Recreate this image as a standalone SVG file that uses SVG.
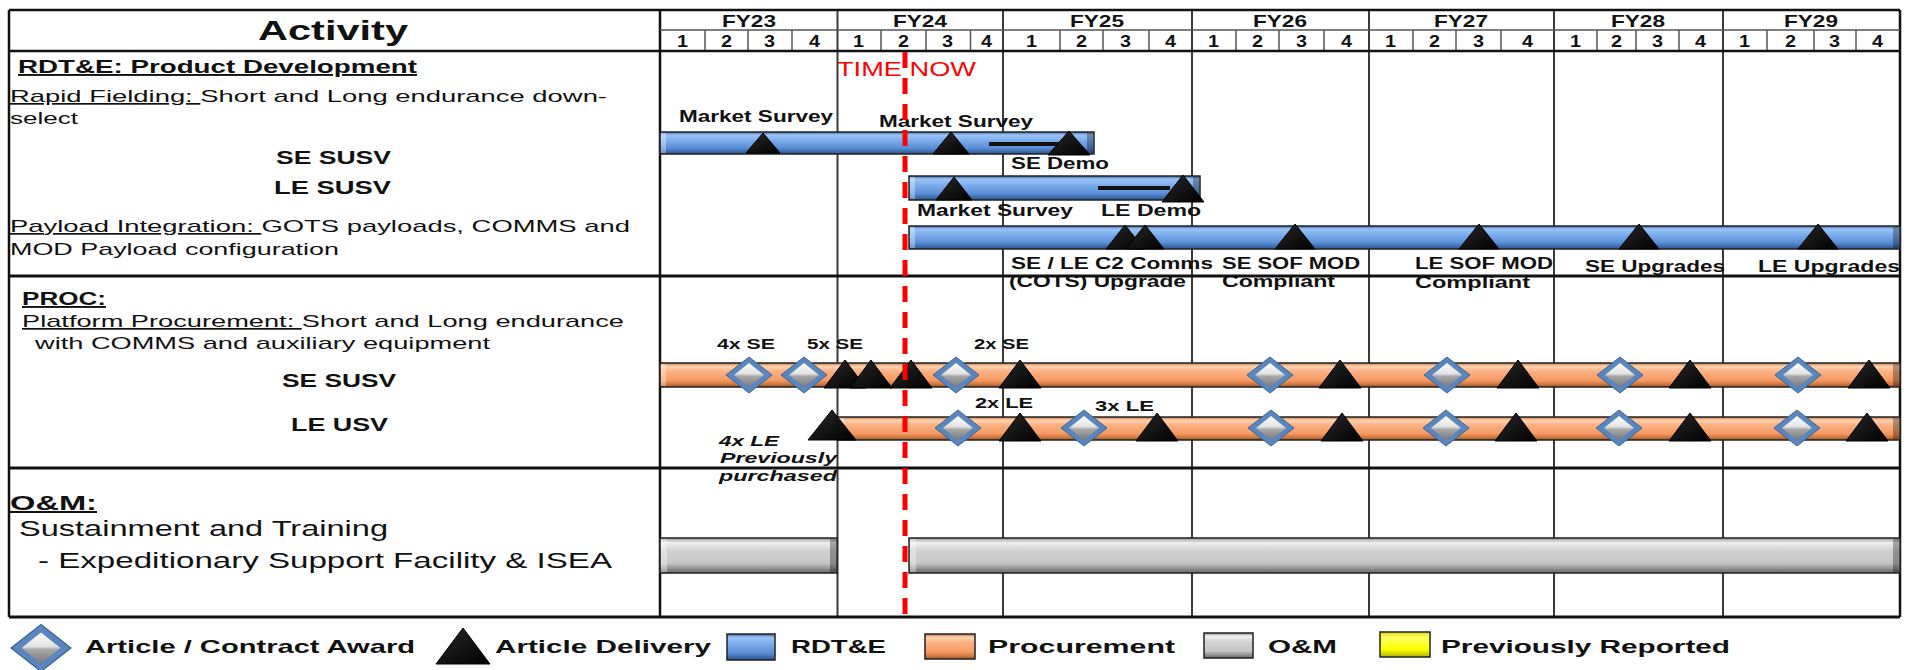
<svg xmlns="http://www.w3.org/2000/svg" width="1913" height="670" viewBox="0 0 1913 670">
<style>
 text { font-family: "Liberation Sans", Arial, sans-serif; fill:#111; }
 .hdr { font-size: 28px; font-weight: bold; }
 .fy { font-size: 17px; font-weight: bold; }
 .q { font-size: 16px; font-weight: bold; }
 .lt { font-size: 17px; }
 .lh { font-size: 19px; font-weight: bold; }
 .lb { font-size: 18px; font-weight: bold; }
 .ms { font-size: 16px; font-weight: bold; }
 .pl { font-size: 15px; font-weight: bold; }
 .it { font-size: 15px; font-weight: bold; font-style: italic; }
 .om { font-size: 22px; }
 .omh { font-size: 20px; font-weight: bold; }
 .lg { font-size: 19px; font-weight: bold; }
 .now { font-size: 20px; fill:#ff0000; }
 .u { text-decoration: underline; }
 .grid { stroke:#3a3a3a; stroke-width:2; }
 .qline { stroke:#555; stroke-width:1.5; }
 .border { stroke:#111; stroke-width:2.5; }
 .div { stroke:#111; stroke-width:3; }
 .tri { fill:url(#gTri); stroke:#000; stroke-width:1; }
 .bar { stroke:#222; stroke-width:1.5; }
 .blue { fill:url(#gBlue); }
 .org { fill:url(#gOrg); }
 .gry { fill:url(#gGry); }
 .hl { fill:#ffffff; fill-opacity:0.35; }
 .sh { fill:#000000; fill-opacity:0.3; }
 .conn { stroke:#111; stroke-width:4; }
 .nowl { stroke:#ff0000; stroke-width:5; stroke-dasharray:16 10; }
</style>
<defs>
 <linearGradient id="gBlue" x1="0" y1="0" x2="0" y2="1">
  <stop offset="0" stop-color="#3d6fb0"/><stop offset="0.14" stop-color="#9cc3f5"/>
  <stop offset="0.35" stop-color="#7fb0ee"/><stop offset="0.72" stop-color="#5b8fd6"/>
  <stop offset="0.88" stop-color="#3e6db0"/><stop offset="1" stop-color="#2a4f86"/>
 </linearGradient>
 <linearGradient id="gOrg" x1="0" y1="0" x2="0" y2="1">
  <stop offset="0" stop-color="#c77a45"/><stop offset="0.14" stop-color="#ffd3b0"/>
  <stop offset="0.35" stop-color="#fbb184"/><stop offset="0.72" stop-color="#f59a62"/>
  <stop offset="0.88" stop-color="#cf7840"/><stop offset="1" stop-color="#9a5428"/>
 </linearGradient>
 <linearGradient id="gGry" x1="0" y1="0" x2="0" y2="1">
  <stop offset="0" stop-color="#9a9a9a"/><stop offset="0.14" stop-color="#f0f0f0"/>
  <stop offset="0.35" stop-color="#d2d2d2"/><stop offset="0.72" stop-color="#c6c6c6"/>
  <stop offset="0.88" stop-color="#8f8f8f"/><stop offset="1" stop-color="#666"/>
 </linearGradient>
 <linearGradient id="gYel" x1="0" y1="0" x2="0" y2="1">
  <stop offset="0" stop-color="#d8d800"/><stop offset="0.2" stop-color="#ffff66"/>
  <stop offset="0.7" stop-color="#ffff00"/><stop offset="1" stop-color="#b0b000"/>
 </linearGradient>
 <linearGradient id="gTri" x1="0" y1="0" x2="1" y2="1">
  <stop offset="0" stop-color="#2a2a2a"/><stop offset="1" stop-color="#000"/>
 </linearGradient>
 <linearGradient id="gDia" x1="0" y1="0" x2="0" y2="1">
  <stop offset="0" stop-color="#ffffff"/><stop offset="0.45" stop-color="#e2e2e2"/>
  <stop offset="0.55" stop-color="#a8a8a8"/><stop offset="1" stop-color="#7a7a7a"/>
 </linearGradient>
 <g id="dia">
  <polygon points="0,-18 23,0 0,18 -23,0" fill="#5a86bd" stroke="#3b6596" stroke-width="1"/>
  <polygon points="0,-12 15,0 0,12 -15,0" fill="url(#gDia)"/>
 </g>
</defs>
<rect x="0" y="0" width="1913" height="670" fill="#fff"/>

<g id="grid">
 <line class="qline" x1="705" y1="30" x2="705" y2="51"/><line class="qline" x1="748" y1="30" x2="748" y2="51"/><line class="qline" x1="792" y1="30" x2="792" y2="51"/>
 <line class="qline" x1="881" y1="30" x2="881" y2="51"/><line class="qline" x1="926" y1="30" x2="926" y2="51"/><line class="qline" x1="970.5" y1="30" x2="970.5" y2="51"/>
 <line class="qline" x1="1060" y1="30" x2="1060" y2="51"/><line class="qline" x1="1103" y1="30" x2="1103" y2="51"/><line class="qline" x1="1149" y1="30" x2="1149" y2="51"/>
 <line class="qline" x1="1236" y1="30" x2="1236" y2="51"/><line class="qline" x1="1279" y1="30" x2="1279" y2="51"/><line class="qline" x1="1324" y1="30" x2="1324" y2="51"/>
 <line class="qline" x1="1413" y1="30" x2="1413" y2="51"/><line class="qline" x1="1456" y1="30" x2="1456" y2="51"/><line class="qline" x1="1501" y1="30" x2="1501" y2="51"/>
 <line class="qline" x1="1597" y1="30" x2="1597" y2="51"/><line class="qline" x1="1636" y1="30" x2="1636" y2="51"/><line class="qline" x1="1679" y1="30" x2="1679" y2="51"/>
 <line class="qline" x1="1767" y1="30" x2="1767" y2="51"/><line class="qline" x1="1814" y1="30" x2="1814" y2="51"/><line class="qline" x1="1856" y1="30" x2="1856" y2="51"/>
 <line class="grid" x1="837.5" y1="10" x2="837.5" y2="617"/>
 <line class="grid" x1="1003" y1="10" x2="1003" y2="617"/>
 <line class="grid" x1="1192" y1="10" x2="1192" y2="617"/>
 <line class="grid" x1="1369" y1="10" x2="1369" y2="617"/>
 <line class="grid" x1="1554" y1="10" x2="1554" y2="617"/>
 <line class="grid" x1="1723" y1="10" x2="1723" y2="617"/>
 <line class="border" x1="660" y1="10" x2="660" y2="617"/>
 <line class="border" x1="9" y1="10" x2="9" y2="617"/>
 <line class="border" x1="1900" y1="10" x2="1900" y2="617"/>
 <line class="border" x1="9" y1="10" x2="1900" y2="10"/>
 <line class="qline" x1="660" y1="30" x2="1900" y2="30"/>
 <line class="border" x1="9" y1="51" x2="1900" y2="51"/>
 <line class="div" x1="9" y1="276" x2="1900" y2="276"/>
 <line class="div" x1="9" y1="468" x2="1900" y2="468"/>
 <line class="div" x1="9" y1="617" x2="1900" y2="617"/>
</g>

<g id="header">
 <text class="hdr" x="258" y="40" textLength="150" lengthAdjust="spacingAndGlyphs">Activity</text>
 <text class="fy" x="722" y="27" textLength="54" lengthAdjust="spacingAndGlyphs">FY23</text>
 <text class="fy" x="893" y="27" textLength="54" lengthAdjust="spacingAndGlyphs">FY24</text>
 <text class="fy" x="1070" y="27" textLength="54" lengthAdjust="spacingAndGlyphs">FY25</text>
 <text class="fy" x="1253" y="27" textLength="54" lengthAdjust="spacingAndGlyphs">FY26</text>
 <text class="fy" x="1434" y="27" textLength="54" lengthAdjust="spacingAndGlyphs">FY27</text>
 <text class="fy" x="1611" y="27" textLength="54" lengthAdjust="spacingAndGlyphs">FY28</text>
 <text class="fy" x="1784" y="27" textLength="54" lengthAdjust="spacingAndGlyphs">FY29</text>
 <g class="q">
  <text x="677" y="47" textLength="11" lengthAdjust="spacingAndGlyphs">1</text><text x="721" y="47" textLength="11" lengthAdjust="spacingAndGlyphs">2</text><text x="764" y="47" textLength="11" lengthAdjust="spacingAndGlyphs">3</text><text x="809" y="47" textLength="11" lengthAdjust="spacingAndGlyphs">4</text>
  <text x="853" y="47" textLength="11" lengthAdjust="spacingAndGlyphs">1</text><text x="898" y="47" textLength="11" lengthAdjust="spacingAndGlyphs">2</text><text x="942" y="47" textLength="11" lengthAdjust="spacingAndGlyphs">3</text><text x="981" y="47" textLength="11" lengthAdjust="spacingAndGlyphs">4</text>
  <text x="1026" y="47" textLength="11" lengthAdjust="spacingAndGlyphs">1</text><text x="1076" y="47" textLength="11" lengthAdjust="spacingAndGlyphs">2</text><text x="1120" y="47" textLength="11" lengthAdjust="spacingAndGlyphs">3</text><text x="1165" y="47" textLength="11" lengthAdjust="spacingAndGlyphs">4</text>
  <text x="1208" y="47" textLength="11" lengthAdjust="spacingAndGlyphs">1</text><text x="1252" y="47" textLength="11" lengthAdjust="spacingAndGlyphs">2</text><text x="1296" y="47" textLength="11" lengthAdjust="spacingAndGlyphs">3</text><text x="1341" y="47" textLength="11" lengthAdjust="spacingAndGlyphs">4</text>
  <text x="1385" y="47" textLength="11" lengthAdjust="spacingAndGlyphs">1</text><text x="1429" y="47" textLength="11" lengthAdjust="spacingAndGlyphs">2</text><text x="1473" y="47" textLength="11" lengthAdjust="spacingAndGlyphs">3</text><text x="1522" y="47" textLength="11" lengthAdjust="spacingAndGlyphs">4</text>
  <text x="1570" y="47" textLength="11" lengthAdjust="spacingAndGlyphs">1</text><text x="1611" y="47" textLength="11" lengthAdjust="spacingAndGlyphs">2</text><text x="1652" y="47" textLength="11" lengthAdjust="spacingAndGlyphs">3</text><text x="1695" y="47" textLength="11" lengthAdjust="spacingAndGlyphs">4</text>
  <text x="1739" y="47" textLength="11" lengthAdjust="spacingAndGlyphs">1</text><text x="1785" y="47" textLength="11" lengthAdjust="spacingAndGlyphs">2</text><text x="1829" y="47" textLength="11" lengthAdjust="spacingAndGlyphs">3</text><text x="1872" y="47" textLength="11" lengthAdjust="spacingAndGlyphs">4</text>
 </g>
</g>

<g id="activity-labels">
 <text class="lh u" x="18" y="73" textLength="399" lengthAdjust="spacingAndGlyphs">RDT&amp;E:  Product Development</text>
 <text class="lt" x="10" y="102" textLength="597" lengthAdjust="spacingAndGlyphs"><tspan class="u">Rapid Fielding: </tspan>Short and Long endurance down-</text>
 <text class="lt" x="10" y="124" textLength="68" lengthAdjust="spacingAndGlyphs">select</text>
 <text class="lb" x="276" y="164" textLength="115" lengthAdjust="spacingAndGlyphs">SE SUSV</text>
 <text class="lb" x="274" y="194" textLength="117" lengthAdjust="spacingAndGlyphs">LE SUSV</text>
 <text class="lt" x="10" y="232" textLength="620" lengthAdjust="spacingAndGlyphs"><tspan class="u">Payload Integration:  </tspan>GOTS payloads, COMMS and</text>
 <text class="lt" x="10" y="255" textLength="329" lengthAdjust="spacingAndGlyphs">MOD Payload configuration</text>
 <text class="lh u" x="22" y="305" textLength="84" lengthAdjust="spacingAndGlyphs">PROC:</text>
 <text class="lt" x="22" y="327" textLength="602" lengthAdjust="spacingAndGlyphs"><tspan class="u">Platform Procurement: </tspan>Short and Long endurance</text>
 <text class="lt" x="35" y="349" textLength="455" lengthAdjust="spacingAndGlyphs">with COMMS and auxiliary equipment</text>
 <text class="lb" x="282" y="387" textLength="114" lengthAdjust="spacingAndGlyphs">SE SUSV</text>
 <text class="lb" x="291" y="431" textLength="97" lengthAdjust="spacingAndGlyphs">LE USV</text>
 <text class="omh u" x="10" y="510" textLength="87" lengthAdjust="spacingAndGlyphs">O&amp;M:</text>
 <text class="om" x="19" y="536" textLength="369" lengthAdjust="spacingAndGlyphs">Sustainment  and Training</text>
 <text class="om" x="38" y="568" textLength="574" lengthAdjust="spacingAndGlyphs">- Expeditionary  Support  Facility &amp; ISEA</text>
</g>

<g id="bar-rdte-se"><rect class="bar blue" x="660" y="132" width="434" height="22"/><rect class="hl" x="661" y="133" width="5" height="20"/><rect class="sh" x="1087" y="133" width="6" height="20"/></g>
<g id="bar-rdte-le"><rect class="bar blue" x="909" y="176" width="291" height="24"/><rect class="hl" x="910" y="177" width="5" height="22"/><rect class="sh" x="1193" y="177" width="6" height="22"/></g>
<g id="bar-payload"><rect class="bar blue" x="909" y="226" width="991" height="23"/><rect class="hl" x="910" y="227" width="5" height="21"/><rect class="sh" x="1893" y="227" width="6" height="21"/></g>
<g id="bar-proc-se"><rect class="bar org" x="660" y="363" width="1240" height="24"/><rect class="hl" x="661" y="364" width="5" height="22"/><rect class="sh" x="1893" y="364" width="6" height="22"/></g>
<g id="bar-proc-le"><rect class="bar org" x="838" y="417" width="1062" height="23"/><rect class="hl" x="839" y="418" width="5" height="21"/><rect class="sh" x="1893" y="418" width="6" height="21"/></g>
<g id="bar-om-1"><rect class="bar gry" x="660" y="538" width="177" height="35"/><rect class="hl" x="661" y="539" width="6" height="33"/><rect class="sh" x="830" y="539" width="6" height="33"/></g>
<g id="bar-om-2"><rect class="bar gry" x="909" y="538" width="991" height="35"/><rect class="hl" x="910" y="539" width="6" height="33"/><rect class="sh" x="1893" y="539" width="6" height="33"/></g>

<g id="connectors">
 <line class="conn" x1="989" y1="144" x2="1067" y2="144"/>
 <line class="conn" x1="1098" y1="188" x2="1170" y2="188"/>
</g>

<g id="milestones-rdte">
 <polygon class="tri" points="746,153 763,133 780,153"/>
 <polygon class="tri" points="933,154 951,132 969,154"/>
 <polygon class="tri" points="1048,155 1069,131 1090,155"/>
 <polygon class="tri" points="936,200 954,177 972,200"/>
 <polygon class="tri" points="1162,202 1183,175 1204,202"/>
 <polygon class="tri" points="1106,249 1125,225 1144,249"/>
 <polygon class="tri" points="1126,249 1145,225 1164,249"/>
 <polygon class="tri" points="1275,249 1295,224 1315,249"/>
 <polygon class="tri" points="1459,249 1479,224 1499,249"/>
 <polygon class="tri" points="1619,249 1639,224 1659,249"/>
 <polygon class="tri" points="1798,249 1818,224 1838,249"/>
</g>

<g id="milestones-proc">
 <use href="#dia" x="749" y="375"/><use href="#dia" x="804" y="375"/><use href="#dia" x="956" y="375"/>
 <use href="#dia" x="1270" y="375"/><use href="#dia" x="1447" y="375"/><use href="#dia" x="1620" y="375"/><use href="#dia" x="1798" y="375"/>
 <polygon class="tri" points="824,388 845,360 866,388"/>
 <polygon class="tri" points="850,388 871,360 892,388"/>
 <polygon class="tri" points="890,388 911,360 932,388"/>
 <polygon class="tri" points="999,388 1020,360 1041,388"/>
 <polygon class="tri" points="1319,388 1340,360 1361,388"/>
 <polygon class="tri" points="1497,388 1518,360 1539,388"/>
 <polygon class="tri" points="1669,388 1690,360 1711,388"/>
 <polygon class="tri" points="1848,388 1869,360 1890,388"/>
 <use href="#dia" x="958" y="428"/><use href="#dia" x="1084" y="428"/><use href="#dia" x="1271" y="428"/>
 <use href="#dia" x="1446" y="428"/><use href="#dia" x="1619" y="428"/><use href="#dia" x="1797" y="428"/>
 <polygon class="tri" points="808,440 832,410 856,440"/>
 <polygon class="tri" points="999,441 1020,413 1041,441"/>
 <polygon class="tri" points="1136,441 1157,413 1178,441"/>
 <polygon class="tri" points="1321,441 1342,413 1363,441"/>
 <polygon class="tri" points="1495,441 1516,413 1537,441"/>
 <polygon class="tri" points="1669,441 1690,413 1711,441"/>
 <polygon class="tri" points="1846,441 1867,413 1888,441"/>
</g>

<g id="timeline-labels">
 <text class="ms" x="679" y="122" textLength="154" lengthAdjust="spacingAndGlyphs">Market Survey</text>
 <text class="ms" x="879" y="127" textLength="154" lengthAdjust="spacingAndGlyphs">Market Survey</text>
 <text class="ms" x="1011" y="169" textLength="98" lengthAdjust="spacingAndGlyphs">SE Demo</text>
 <text class="ms" x="917" y="216" textLength="156" lengthAdjust="spacingAndGlyphs">Market Survey</text>
 <text class="ms" x="1101" y="216" textLength="100" lengthAdjust="spacingAndGlyphs">LE Demo</text>
 <text class="ms" x="1011" y="269" textLength="202" lengthAdjust="spacingAndGlyphs">SE / LE C2 Comms</text>
 <text class="ms" x="1009" y="287" textLength="177" lengthAdjust="spacingAndGlyphs">(COTS) Upgrade</text>
 <text class="ms" x="1222" y="269" textLength="138" lengthAdjust="spacingAndGlyphs">SE  SOF  MOD</text>
 <text class="ms" x="1222" y="287" textLength="113" lengthAdjust="spacingAndGlyphs">Compliant</text>
 <text class="ms" x="1415" y="269" textLength="138" lengthAdjust="spacingAndGlyphs">LE  SOF  MOD</text>
 <text class="ms" x="1415" y="288" textLength="115" lengthAdjust="spacingAndGlyphs">Compliant</text>
 <text class="ms" x="1585" y="272" textLength="140" lengthAdjust="spacingAndGlyphs">SE Upgrades</text>
 <text class="ms" x="1758" y="272" textLength="142" lengthAdjust="spacingAndGlyphs">LE Upgrades</text>
 <text class="pl" x="717" y="349" textLength="58" lengthAdjust="spacingAndGlyphs">4x  SE</text>
 <text class="pl" x="807" y="349" textLength="56" lengthAdjust="spacingAndGlyphs">5x  SE</text>
 <text class="pl" x="974" y="349" textLength="55" lengthAdjust="spacingAndGlyphs">2x  SE</text>
 <text class="pl" x="975" y="408" textLength="58" lengthAdjust="spacingAndGlyphs">2x  LE</text>
 <text class="pl" x="1095" y="411" textLength="59" lengthAdjust="spacingAndGlyphs">3x  LE</text>
 <text class="it" x="719" y="446" textLength="60" lengthAdjust="spacingAndGlyphs">4x  LE</text>
 <text class="it" x="720" y="463" textLength="117" lengthAdjust="spacingAndGlyphs">Previously</text>
 <text class="it" x="719" y="481" textLength="118" lengthAdjust="spacingAndGlyphs">purchased</text>
</g>

<g id="time-now">
 <text class="now" x="837" y="76" textLength="139" lengthAdjust="spacingAndGlyphs">TIME NOW</text>
 <line class="nowl" x1="905" y1="52" x2="905" y2="617"/>
</g>

<g id="legend">
 <use href="#dia" transform="translate(41,648) scale(1.3)"/>
 <text class="lg" x="85" y="653" textLength="330" lengthAdjust="spacingAndGlyphs">Article / Contract Award</text>
 <polygon class="tri" points="436,664 463,628 490,664"/>
 <text class="lg" x="495" y="653" textLength="216" lengthAdjust="spacingAndGlyphs">Article Delivery</text>
 <rect class="bar blue" x="727" y="634" width="48" height="26" stroke-width="2"/>
 <text class="lg" x="791" y="653" textLength="95" lengthAdjust="spacingAndGlyphs">RDT&amp;E</text>
 <rect class="bar org" x="925" y="634" width="50" height="25" stroke-width="2"/>
 <text class="lg" x="988" y="653" textLength="187" lengthAdjust="spacingAndGlyphs">Procurement</text>
 <rect class="bar gry" x="1204" y="633" width="49" height="25" stroke-width="2"/>
 <text class="lg" x="1268" y="653" textLength="69" lengthAdjust="spacingAndGlyphs">O&amp;M</text>
 <rect class="bar" x="1380" y="632" width="50" height="25" fill="url(#gYel)" stroke-width="2"/>
 <text class="lg" x="1441" y="653" textLength="289" lengthAdjust="spacingAndGlyphs">Previously Reported</text>
</g>
</svg>
